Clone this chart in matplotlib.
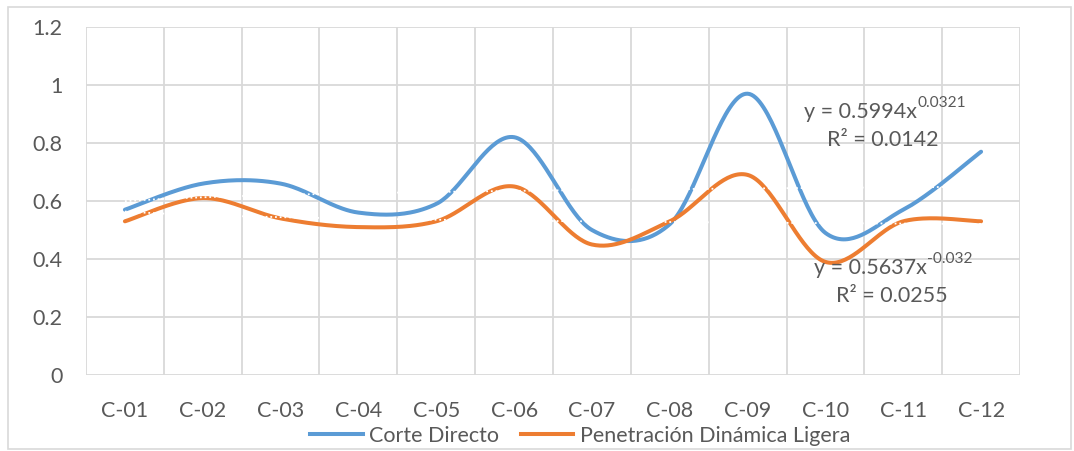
import matplotlib
matplotlib.use('Agg')
import matplotlib.pyplot as plt
from matplotlib.patches import Rectangle
from matplotlib.lines import Line2D
import numpy as np

plt.rcParams['font.family'] = ['Lato', 'DejaVu Sans']
plt.rcParams['axes.unicode_minus'] = False

ensayos = ['C-01', 'C-02', 'C-03', 'C-04', 'C-05', 'C-06',
           'C-07', 'C-08', 'C-09', 'C-10', 'C-11', 'C-12']
corte_directo = [0.57, 0.66, 0.66, 0.56, 0.59, 0.82, 0.50, 0.52, 0.97, 0.49, 0.57, 0.77]
penetracion = [0.53, 0.61, 0.54, 0.51, 0.53, 0.65, 0.45, 0.53, 0.69, 0.39, 0.53, 0.53]

# tendencias potenciales y = a * x^b  (a, b, R2)
tend_cd = (0.5994, 0.0321, 0.0142)
tend_pdl = (0.5637, -0.032, 0.0255)

AZUL = '#5b9bd5'
NARANJA = '#ed7d31'
GRIS_TXT = '#595959'
GRIS_LIN = '#d9d9d9'
FS = 15.5


def suavizar(x, y, n=40):
    """Curva suavizada tipo Excel (Bezier con tangentes Catmull-Rom)."""
    pts = np.column_stack([x, y]).astype(float)
    ext = np.vstack([pts[0], pts, pts[-1]])
    t = np.linspace(0, 1, n)[:, None]
    tramos = []
    for i in range(len(pts) - 1):
        p0, p3 = pts[i], pts[i + 1]
        c1 = p0 + (ext[i + 2] - ext[i]) / 6
        c2 = p3 - (ext[i + 3] - ext[i + 1]) / 6
        seg = ((1 - t) ** 3) * p0 + 3 * ((1 - t) ** 2) * t * c1 \
            + 3 * (1 - t) * t ** 2 * c2 + t ** 3 * p3
        tramos.append(seg if i == 0 else seg[1:])
    s = np.vstack(tramos)
    return s[:, 0], s[:, 1]


def ecuacion(ax, xd, yd, a, b, r2, dx_r2):
    """Etiqueta de la tendencia: y = a x^b  y  R2 debajo."""
    fig = ax.figure
    base = fig.text(xd / W, 1 - yd / H, f'y = {a}x', ha='right', va='center',
                    fontsize=FS, color=GRIS_TXT)
    ax.annotate(f'{b}', xy=(1, 0.6), xycoords=base, ha='left', va='bottom',
                fontsize=FS * 0.72, color=GRIS_TXT, annotation_clip=False)
    fig.text((xd + dx_r2) / W, 1 - (yd + 28) / H, f'R² = {r2}', ha='center',
             va='center', fontsize=FS, color=GRIS_TXT)


W, H = 1074, 451
fig = plt.figure(figsize=(W / 100, H / 100), dpi=100)
ax = fig.add_axes([86 / W, 1 - 375 / H, (1020 - 86) / W, (375 - 27) / H])

x = np.arange(1, len(ensayos) + 1)

xs, ys = suavizar(x, corte_directo)
ax.plot(xs, ys, color=AZUL, lw=2.9, solid_capstyle='round', zorder=3)
xs, ys = suavizar(x, penetracion)
ax.plot(xs, ys, color=NARANJA, lw=2.9, solid_capstyle='round', zorder=3)

# lineas de tendencia (punteadas blancas)
xt = np.linspace(1, len(ensayos), 200)
for a, b, _ in (tend_cd, tend_pdl):
    ax.plot(xt, a * xt ** b, color='white', lw=1.3,
            linestyle=(0, (1, 1.6)), zorder=4)

ax.set_xlim(0.5, len(ensayos) + 0.5)
ax.set_ylim(0, 1.2)
ax.set_yticks(np.arange(0, 1.21, 0.2))
ax.set_yticklabels(['0', '0.2', '0.4', '0.6', '0.8', '1', '1.2'])
ax.set_xticks(x)
ax.set_xticklabels(ensayos)
ax.set_xticks(np.arange(0.5, len(ensayos) + 0.6, 1), minor=True)

ax.grid(axis='y', which='major', color=GRIS_LIN, lw=1.3)
ax.grid(axis='x', which='minor', color=GRIS_LIN, lw=1.3)
ax.set_axisbelow(True)
for sp in ax.spines.values():
    sp.set_visible(False)
ax.tick_params(axis='both', which='both', length=0, labelsize=FS,
               labelcolor=GRIS_TXT)
ax.tick_params(axis='y', pad=17)
ax.tick_params(axis='x', pad=19)

# ecuaciones de tendencia
ecuacion(ax, 917, 112, *tend_cd, dx_r2=-34)
ecuacion(ax, 927, 268, *tend_pdl, dx_r2=-35)

handles = [Line2D([], [], color=AZUL, lw=2.9),
           Line2D([], [], color=NARANJA, lw=2.9)]
leg = fig.legend(handles, ['Corte Directo', 'Penetración Dinámica Ligera'],
                 loc='center', bbox_to_anchor=(580 / W, 1 - 436 / H), ncol=2,
                 frameon=False, fontsize=FS, handlelength=2.45,
                 handletextpad=0.3, columnspacing=1.0, borderpad=0)
for t in leg.get_texts():
    t.set_color(GRIS_TXT)

# borde del area del grafico
fig.patches.append(Rectangle((8 / W, 1 - 449 / H), (1071 - 8) / W, (449 - 7) / H,
                             transform=fig.transFigure, fill=False,
                             ec=GRIS_LIN, lw=1.2))

fig.savefig('out.png', dpi=100, facecolor='white')
